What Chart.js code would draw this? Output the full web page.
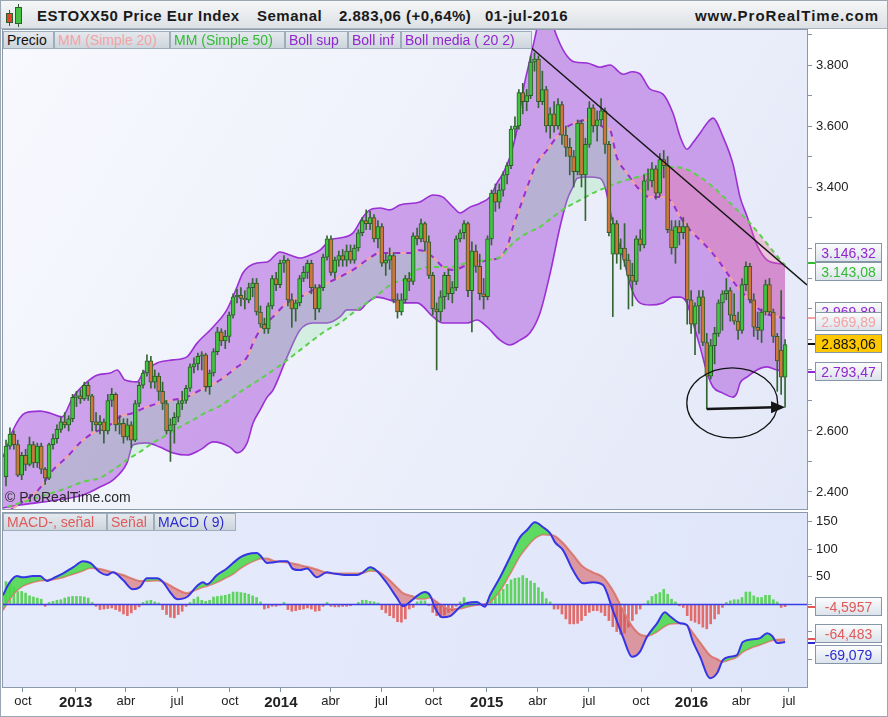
<!DOCTYPE html>
<html lang="es">
<head>
<meta charset="utf-8">
<title>ESTOXX50 Price Eur Index - Semanal</title>
<script src="https://cdn.jsdelivr.net/npm/chart.js@4.4.0/dist/chart.umd.min.js"></script>
<style>
  html, body { margin: 0; padding: 0; }
  body { width: 888px; height: 717px; position: relative; overflow: hidden; background: #fff;
         font-family: "Liberation Sans", Arial, sans-serif; color: #111; }
  #frame { position: absolute; left: 0; top: 0; width: 886px; height: 715px; border: 1px solid #9aa6b2; }
  #head { position: absolute; left: 1px; top: 1px; width: 886px; height: 27px;
          background: linear-gradient(#f5f6f7, #dde1e5); border-bottom: 1px solid #a9b4be; }
  .ht { position: absolute; top: 6px; font-size: 15px; font-weight: bold; color: #1a1a1a; white-space: nowrap; letter-spacing: 0.5px; }
  canvas { position: absolute; left: 0; }
  .lg { position: absolute; height: 18px; line-height: 17px; font-size: 14px; box-sizing: border-box; padding: 0 3px;
        background: linear-gradient(#e4e9ee, #cdd5dd); border: 1px solid #9eadbb; white-space: nowrap; overflow: hidden; }
  .vb { position: absolute; left: 815px; width: 67px; height: 19px; line-height: 18px; font-size: 14px; box-sizing: border-box;
        text-align: center; background: linear-gradient(#fbfcfd, #dbe3eb); border: 1px solid #8696a6; }
  .mk { position: absolute; left: 808px; width: 7px; height: 2px; }
  .cw { position: absolute; width: 1px; background: #2f5f2f; }
  .cb { position: absolute; box-sizing: border-box; border: 1px solid #2f5f2f; }
</style>
</head>
<body>
<div id="frame"></div>
<div id="head">
  <div class="cw" style="left:8px;top:9px;height:16px"></div>
  <div class="cb" style="left:5px;top:12px;width:7px;height:10px;background:#e0442c"></div>
  <div class="cw" style="left:17px;top:3px;height:23px"></div>
  <div class="cb" style="left:14px;top:6px;width:7px;height:17px;background:#44c244"></div>
  <div class="ht" style="left:36px">ESTOXX50 Price Eur Index</div>
  <div class="ht" style="left:256px">Semanal</div>
  <div class="ht" style="left:338px">2.883,06 (+0,64%)</div>
  <div class="ht" style="left:484px">01-jul-2016</div>
  <div class="ht" style="right:8px;letter-spacing:1px">www.ProRealTime.com</div>
</div>

<canvas id="main" width="888" height="484" style="top:28px"></canvas>
<canvas id="macd" width="888" height="206" style="top:511px"></canvas>

<div class="lg" style="left:3px;top:31px;width:51px;color:#111">Precio</div>
<div class="lg" style="left:54px;top:31px;width:116px;color:#f3a3a3">MM (Simple 20)</div>
<div class="lg" style="left:170px;top:31px;width:115px;color:#33bb33">MM (Simple 50)</div>
<div class="lg" style="left:285px;top:31px;width:63px;color:#9326d0">Boll sup</div>
<div class="lg" style="left:348px;top:31px;width:53px;color:#9326d0">Boll inf</div>
<div class="lg" style="left:401px;top:31px;width:131px;color:#9326d0">Boll media ( 20 2)</div>

<div style="position:absolute;left:5px;top:489px;font-size:14px;color:#2a2a2a">© ProRealTime.com</div>

<div class="lg" style="left:3px;top:513px;width:104px;color:#e05a5a">MACD-, señal</div>
<div class="lg" style="left:107px;top:513px;width:47px;color:#e05a5a">Señal</div>
<div class="lg" style="left:154px;top:513px;width:82px;color:#2b2bd0">MACD ( 9)</div>

<div class="mk" style="top:262px;background:#33bb33"></div>
<div class="mk" style="top:317px;background:#f3a3a3"></div>
<div class="mk" style="top:343px;background:#111"></div>
<div class="mk" style="top:371px;background:#9326d0"></div>
<div class="vb" style="top:243px;color:#9326d0">3.146,32</div>
<div class="vb" style="top:262px;color:#33bb33">3.143,08</div>
<div class="vb" style="top:302px;color:#9326d0">2.969,89</div>
<div class="vb" style="top:312px;color:#f3a3a3">2.969,89</div>
<div class="vb" style="top:334px;background:#ffc800;color:#111">2.883,06</div>
<div class="vb" style="top:362px;color:#9326d0">2.793,47</div>

<div class="mk" style="top:606px;background:#e05a5a"></div>
<div class="mk" style="top:638px;background:#e05a5a"></div>
<div class="mk" style="top:642px;background:#2b2bd0"></div>
<div class="vb" style="top:597px;color:#e05a5a">-4,5957</div>
<div class="vb" style="top:624px;color:#e05a5a">-64,483</div>
<div class="vb" style="top:645px;color:#2b2bd0">-69,079</div>

<script>
// weekly candles, 7 Sep 2012 .. 1 Jul 2016 (index 0..199)
const opens = [2450,2550,2590,2555,2455,2520,2490,2555,2495,2550,2475,2445,2555,2575,2605,2630,2620,2640,2710,2715,
  2705,2750,2715,2630,2620,2630,2600,2700,2720,2620,2625,2580,2620,2570,2690,2750,2790,2830,2760,2780,
  2730,2690,2600,2620,2645,2690,2700,2740,2810,2820,2845,2850,2745,2790,2860,2925,2895,2910,2980,3040,
  3045,3035,3030,3070,3085,2990,2950,2935,3010,3100,3080,3150,3160,3030,3000,3020,3100,3120,3150,3070,
  3000,3070,3170,3230,3120,3160,3175,3160,3190,3160,3200,3250,3290,3280,3300,3230,3270,3150,3160,3175,
  3030,2990,3030,3100,3090,3240,3230,3280,3220,3110,3000,2990,3040,3110,3050,3070,3230,3250,3280,3060,
  3190,3140,3050,3040,3230,3380,3350,3390,3440,3470,3590,3600,3710,3680,3700,3810,3820,3680,3720,3600,
  3640,3600,3670,3570,3530,3500,3450,3610,3440,3540,3660,3600,3620,3650,3540,3180,3280,3180,3200,3160,
  3110,3090,3230,3210,3420,3420,3460,3380,3490,3470,3260,3200,3270,3250,3270,3030,2950,3010,3040,2890,
  2780,2880,2920,3020,3050,3060,2980,2960,2930,3080,3140,3030,2940,2930,2990,3080,2990,2910,2865,2776];
const highs = [2570,2610,2600,2570,2530,2540,2580,2565,2560,2560,2480,2560,2590,2620,2645,2660,2650,2720,2730,2735,
  2760,2760,2720,2660,2650,2640,2720,2740,2725,2650,2640,2640,2630,2700,2760,2800,2850,2845,2800,2790,
  2760,2700,2640,2660,2700,2730,2750,2820,2840,2855,2860,2855,2800,2870,2940,2935,2930,2990,3050,3065,
  3070,3060,3085,3100,3100,3010,2970,3020,3110,3120,3160,3175,3165,3050,3030,3110,3140,3160,3160,3080,
  3080,3180,3240,3240,3170,3190,3195,3210,3210,3210,3260,3300,3325,3320,3310,3290,3280,3180,3200,3185,
  3050,3050,3110,3120,3250,3265,3295,3285,3240,3120,3020,3060,3120,3130,3090,3240,3260,3290,3285,3220,
  3210,3180,3100,3240,3390,3410,3410,3450,3480,3600,3630,3720,3740,3720,3830,3840,3830,3780,3730,3660,
  3680,3690,3680,3600,3560,3520,3620,3620,3560,3680,3670,3650,3690,3660,3550,3300,3290,3230,3280,3180,
  3150,3240,3260,3440,3460,3480,3470,3510,3520,3500,3290,3290,3290,3300,3280,3060,3020,3060,3060,2920,
  2900,2940,3030,3060,3100,3070,3050,2990,3100,3155,3150,3050,2990,3000,3095,3100,3000,2920,3060,2900];
const lows = [2420,2540,2540,2450,2440,2470,2485,2480,2480,2460,2425,2440,2540,2560,2595,2610,2600,2630,2680,2690,
  2700,2700,2600,2600,2590,2560,2590,2680,2600,2590,2560,2570,2545,2565,2680,2740,2780,2740,2740,2700,
  2670,2590,2500,2560,2630,2670,2690,2730,2790,2800,2800,2730,2720,2780,2850,2880,2870,2890,2970,3020,
  3010,3000,3020,3040,2980,2940,2920,2920,3000,3060,3070,3120,3010,2940,2960,3010,3090,3100,3050,2965,
  2990,3060,3160,3110,3100,3140,3140,3140,3150,3150,3190,3240,3260,3260,3220,3200,3140,3110,3130,3020,
  2970,2980,3020,3060,3080,3210,3220,3190,3100,2980,2800,2960,3000,3030,3020,3060,3220,3230,3040,2925,
  3120,3030,3000,3030,3210,3320,3330,3370,3410,3460,3560,3590,3640,3650,3690,3780,3660,3670,3580,3560,
  3580,3590,3540,3500,3440,3400,3440,3400,3290,3530,3580,3550,3600,3510,3240,2975,3150,3130,3140,3000,
  3010,3080,3190,3200,3390,3400,3360,3370,3430,3250,3180,3150,3210,3230,2950,2920,2850,2920,2880,2672,
  2770,2820,2910,2930,3030,2960,2950,2900,2920,3060,3020,2910,2900,2890,2980,2980,2890,2730,2720,2678];
const closes = [2550,2590,2555,2455,2520,2490,2555,2495,2550,2475,2445,2555,2575,2605,2630,2620,2640,2710,2715,2705,
  2750,2715,2630,2620,2630,2600,2700,2720,2620,2625,2580,2620,2570,2690,2750,2790,2830,2760,2780,2730,
  2690,2600,2620,2645,2690,2700,2740,2810,2820,2845,2850,2745,2790,2860,2925,2895,2910,2980,3040,3045,
  3035,3030,3070,3085,2990,2950,2935,3010,3100,3080,3150,3160,3030,3000,3020,3100,3120,3150,3070,3000,
  3070,3170,3230,3120,3160,3175,3160,3190,3160,3200,3250,3290,3280,3300,3230,3270,3150,3160,3175,3030,
  2990,3030,3100,3090,3240,3230,3280,3220,3110,3000,2990,3040,3110,3050,3070,3230,3250,3280,3060,3190,
  3140,3050,3040,3230,3380,3350,3390,3440,3470,3590,3600,3710,3680,3700,3810,3820,3680,3720,3600,3640,
  3600,3670,3570,3530,3500,3450,3610,3440,3540,3660,3600,3620,3650,3540,3250,3280,3180,3200,3160,3110,
  3090,3230,3210,3420,3420,3460,3380,3490,3470,3260,3200,3270,3250,3270,3030,2950,3010,3040,2890,2780,
  2880,2920,3020,3050,3060,2980,2960,2930,3080,3140,3030,2940,2930,2990,3080,2990,2910,2830,2776,2883.06];

// Bollinger (20, 2) and moving averages (week index, value)
const upperWeeks = [-0.8,0,1.8,4.9,8.7,11.2,14.3,17.1,20.7,23.2,26.6,28.4,30.4,33.5,35,38.6,42.7,46.2,48.8,52.9,
  56.4,59,60.5,64.1,66.7,70,72.5,75.1,77.7,80.2,82.8,85.3,88.6,91.2,93,95.5,98.1,100.6,105.7,109.1,
  111.6,114.2,116,118.5,121.1,123.6,125.4,127,128.7,130.5,132.1,133.8,135.1,136.4,138.4,139.7,141.5,143.3,145.3,148.4,
  151.7,154.3,157.6,160,162,164.5,167.8,170.4,172.2,173.9,175.5,177.3,179.1,180.6,183.1,185.7,187.5,189.3,191.8,194.4,196.9,199];
const upperVals = [2515,2538,2603,2659,2665,2659,2646,2711,2761,2783,2790,2800,2767,2761,2790,2823,2833,2843,2888,2941,
  2997,3072,3118,3151,3154,3187,3177,3167,3177,3193,3226,3233,3249,3302,3325,3331,3325,3341,3351,3374,
  3367,3334,3315,3334,3347,3367,3413,3446,3498,3587,3718,3816,3890,3960,3990,3930,3870,3830,3810,3807,
  3793,3800,3770,3778,3770,3721,3705,3641,3565,3524,3546,3577,3610,3626,3566,3475,3367,3303,3210,3160,3150,3146.32];
const lowerWeeks = [-0.8,3.6,11.2,19.7,24,27.3,30.9,32.4,36,39.3,42.7,46.2,49.6,52.9,57.2,59,61.6,63.1,64.9,66.7,
  68.2,71.8,75.1,78.4,82,85.3,87.1,90.4,92.2,94.8,98.1,100.6,105,109.1,111.6,117.8,120.3,122.9,126.2,128.7,
  131.3,133.8,136.4,139,141.5,143.3,144.8,145.9,148.4,151.7,153,155,157.6,159.9,161.9,164.5,167.8,170.4,172.2,173.9,
  175.5,177.3,179.1,180.6,183.1,185.7,186.7,187.5,189.3,191.8,194.4,196.9,199];
const lowerVals = [2347,2357,2370,2390,2416,2439,2495,2554,2561,2547,2528,2521,2538,2564,2547,2528,2561,2626,2669,2711,
  2734,2843,2931,2954,2954,2974,2997,2997,3020,3039,3029,3020,3020,2974,2954,2954,2964,2941,2898,2882,
  2898,2921,2987,3118,3269,3357,3400,3429,3433,3429,3400,3282,3170,3062,3020,3013,3020,3039,3039,3020,
  2954,2875,2790,2744,2724,2711,2724,2757,2777,2800,2810,2800,2793.47];
const sma20Weeks = [-0.8,4,8.2,12,15.6,18.9,22.2,25.8,29.1,32.4,36,39.3,42.7,46.2,49.6,54.7,58,61.6,63.1,64.9,
  68.2,71.8,75.1,78.4,82,85.3,88.6,92.2,95.5,98.9,103.2,105.7,109.1,111.6,114.2,117.8,121.1,123.6,126.2,128,
  129.5,131.3,133.8,135.6,138.2,140.7,143.3,145.9,148.4,151,152.5,154.3,156,158.6,161.2,164.5,167.1,169.6,172.2,174.7,
  177.3,179.8,182.4,184.9,187.5,190,192.6,195.1,199];
const sma20Vals = [2325,2365,2406,2472,2515,2561,2593,2613,2646,2659,2679,2692,2702,2711,2734,2767,2800,2843,2888,2931,
  2974,3020,3039,3062,3085,3105,3128,3161,3184,3184,3184,3193,3170,3138,3128,3144,3154,3161,3170,3203,
  3269,3334,3423,3479,3521,3564,3597,3613,3620,3613,3597,3587,3498,3446,3400,3367,3367,3357,3302,3259,
  3226,3193,3151,3105,3062,3029,2997,2980,2969.89];
const sma50Weeks = [0.3,8.7,15.6,19.7,24,27.3,30.9,34.2,37.5,41.1,44.4,47.8,51.3,54.7,59.8,64.9,70,75.1,78.4,82,
  85.3,88.6,92.2,95.5,98.9,101.4,105,109.1,113.4,117.8,122.9,126.2,129.5,133.1,136.4,139.7,143.3,146.6,149.9,153.5,
  156,160.2,164.5,168.8,172.9,177.3,180.6,184.2,186.7,189.3,192.6,195.7,199];
const sma50Vals = [2351,2384,2413,2433,2446,2472,2505,2531,2561,2587,2613,2636,2662,2682,2728,2770,2815,2865,2898,2931,
  2954,2987,3020,3052,3085,3095,3128,3138,3138,3151,3161,3170,3216,3249,3269,3302,3334,3357,3380,3400,
  3413,3429,3446,3466,3462,3433,3400,3357,3325,3292,3243,3193,3143.08];

// hand-drawn marks on the price panel
const trendWeeks = [134.3, 204.6];
const trendVals = [3855, 3079];
const arrowWeeks = [179, 199];
const arrowVals = [2672, 2678];
const ringMark = { week: 185.5, value: 2692, halfWeeks: 11.6, halfValue: 115 };

// MACD panel
const macdWeeks = [-0.8,1,2.8,4.3,6.9,8.7,10.5,12,14.6,17.1,19.7,21.5,24,25.8,27.3,29.9,32.4,34.2,36,38.6,
  40.1,41.9,43.7,46.2,48.8,50.3,51.3,53.9,56.4,58,59.8,61.6,64.1,64.9,66.7,68.2,70,71.8,73.3,75.1,
  76.9,79.4,82,83.5,87.1,89.7,91.2,93,94.8,97.3,99.9,101.4,104,105,107,108.3,109.6,111.4,113.4,116,
  117.8,120.3,122.3,123.6,126.2,128.7,131.3,133.1,135.1,137.2,139,140.2,142.3,144.8,147.4,149.9,152.5,155,157.6,159.9,
  161.9,163.7,166.3,168.3,169.6,172.2,173.9,175.5,177.3,179.8,181.6,183.1,184.9,186.7,188.2,190.8,192.6,194.4,195.7,197,199];
const macdVals = [16,40,51,49,51,51,42,47,56,67,78,75,58,53,58,44,27,31,47,47,
  40,22,9,13,33,40,36,53,65,75,85,91,93,89,75,76,78,78,64,62,
  65,49,58,56,53,53,58,67,60,38,11,-4,9,15,22,16,-7,-24,-22,-5,
  2,4,-5,16,49,85,122,135,149,140,129,113,98,62,38,40,35,-11,-60,-96,
  -87,-60,-35,-15,-22,-35,-38,-69,-96,-135,-126,-102,-96,-93,-69,-64,-62,-53,-58,-71,-69.079];
const signalVals = [-11,10,25,33,40,43,44,45,49,55,61,66,64,61,58,53,46,42,42,43,
  41,34,27,20,27,31,33,40,49,55,65,73,81,83,83,79,77,76,74,71,
  68,63,57,56,56,56,57,61,60,48,30,20,14,10,10,12,6,-3,-9,-8,
  -5,-1,0,4,25,55,88,105,120,127,126,124,111,90,68,58,49,25,-11,-40,
  -55,-58,-50,-40,-36,-35,-38,-53,-70,-93,-100,-105,-101,-96,-87,-78,-74,-69,-66,-65,-64.483];
const histVals = [41,38,31,23,23,20,15,13,11,9,-4,3,5,7,8,11,13,14,14,14,
  13,11,3,-4,-10,-9,-8,-7,-10,-13,-18,-21,-16,-10,-5,3,6,7,4,2,
  -10,-19,-24,-25,-19,-13,-4,3,9,13,7,5,7,13,14,15,16,18,22,22,
  21,20,18,15,12,4,-9,-7,-4,-4,-2,3,-10,-13,-12,-10,-9,-7,-9,-13,
  -12,-4,3,-4,-5,-5,-4,-4,-3,-1,3,7,7,5,4,2,-10,-16,-21,-25,
  -32,-33,-27,-9,-6,4,6,6,-3,-15,-21,-24,-20,-15,-12,-4,4,12,0,-3,
  -2,1,-3,1,9,12,21,27,36,44,47,48,52,47,42,38,30,22,10,4,
  -9,-9,-18,-27,-36,-36,-35,-30,-21,-15,-12,-12,-15,-21,-30,-41,-50,-55,-53,-42,
  -30,-18,-9,0,6,14,18,21,27,18,9,4,-3,-6,-21,-30,-33,-36,-42,-45,
  -36,-27,-18,-6,3,6,8,8,12,22,22,15,12,12,16,16,8,4,-6,-4.5957];

// axis ticks
const priceTicks = [2400,2500,2600,2700,2800,2900,3000,3100,3200,3300,3400,3500,3600,3700,3800,3900];
const macdTicks = [-100,-50,0,50,100,150];
const xTickWeeks = [4.3,17.8,30.6,43.7,57.2,70.2,82.9,95.9,109.2,122.8,135.8,148.9,162.2,175.1,187.8,200];
const xTickLabels = ['oct','2013','abr','jul','oct','2014','abr','jul','oct','2015','abr','jul','oct','2016','abr','jul'];

const xMin = -0.77, xMax = 204.6;

Chart.defaults.font.family = "'Liberation Sans', Arial, sans-serif";
Chart.defaults.color = '#222';

const pts = (xs, ys) => xs.map((x, i) => ({ x: x, y: ys[i] }));
const fmt = v => {
  const s = String(Math.abs(v));
  const t = s.length > 3 ? s.slice(0, -3) + '.' + s.slice(-3) : s;
  return (v < 0 ? '-' : '') + t;
};
const weekIdx = closes.map((c, i) => i);

// keep the plot box where the picture has it: no extra room for edge labels
const noPad = s => { s.paddingTop = 0; s.paddingBottom = 0; s.paddingLeft = 0; s.paddingRight = 0; };

const panelBg = {
  id: 'panelBg',
  beforeDraw(chart, args, opts) {
    const { ctx, chartArea: a } = chart;
    ctx.save();
    const g = ctx.createLinearGradient(a.left, a.top, a.right, a.bottom);
    g.addColorStop(0, opts.c1);
    g.addColorStop(1, opts.c2);
    ctx.fillStyle = g;
    ctx.fillRect(a.left, a.top, a.right - a.left, a.bottom - a.top);
    ctx.restore();
  },
  afterDraw(chart) {
    const { ctx, chartArea: a } = chart;
    ctx.save();
    ctx.strokeStyle = '#8a9aab';
    ctx.lineWidth = 1;
    ctx.strokeRect(a.left - 0.5, a.top - 0.5, a.right - a.left + 1, a.bottom - a.top + 1);
    ctx.restore();
  }
};

const marks = {
  id: 'marks',
  afterDatasetsDraw(chart) {
    const { ctx, scales: { x, y } } = chart;
    ctx.save();
    ctx.strokeStyle = '#151515';
    ctx.fillStyle = '#151515';
    // ellipse round the two lows
    const cx = x.getPixelForValue(ringMark.week);
    const cy = y.getPixelForValue(ringMark.value);
    const rx = x.getPixelForValue(ringMark.week + ringMark.halfWeeks) - cx;
    const ry = y.getPixelForValue(ringMark.value - ringMark.halfValue) - cy;
    ctx.lineWidth = 1.3;
    ctx.beginPath();
    ctx.ellipse(cx, cy, rx, ry, 0, 0, Math.PI * 2);
    ctx.stroke();
    // arrow low to low
    const x0 = x.getPixelForValue(arrowWeeks[0]), y0 = y.getPixelForValue(arrowVals[0]);
    const x1 = x.getPixelForValue(arrowWeeks[1]), y1 = y.getPixelForValue(arrowVals[1]);
    ctx.lineWidth = 2.5;
    ctx.beginPath();
    ctx.moveTo(x0, y0);
    ctx.lineTo(x1 - 10, y1);
    ctx.stroke();
    ctx.beginPath();
    ctx.moveTo(x1, y1);
    ctx.lineTo(x1 - 14, y1 - 6);
    ctx.lineTo(x1 - 14, y1 + 6);
    ctx.closePath();
    ctx.fill();
    ctx.restore();
  }
};

const zeroLine = {
  id: 'zeroLine',
  afterDatasetsDraw(chart) {
    const { ctx, chartArea: a, scales: { y } } = chart;
    const py = Math.round(y.getPixelForValue(0)) + 0.5;
    ctx.save();
    ctx.strokeStyle = '#3a3ae6';
    ctx.lineWidth = 1.5;
    ctx.beginPath();
    ctx.moveTo(a.left, py);
    ctx.lineTo(a.right, py);
    ctx.stroke();
    ctx.restore();
  }
};

const lineStyle = { pointRadius: 0, borderWidth: 1.6, cubicInterpolationMode: 'monotone' };

new Chart(document.getElementById('main'), {
  type: 'line',
  data: {
    datasets: [
      { ...lineStyle, label: 'Boll sup', data: pts(upperWeeks, upperVals), borderColor: '#9b30d4',
        fill: '+1', backgroundColor: 'rgba(168, 78, 218, 0.5)', order: 7 },
      { ...lineStyle, label: 'Boll inf', data: pts(lowerWeeks, lowerVals), borderColor: '#9b30d4', fill: false, order: 6 },
      { ...lineStyle, label: 'MM (Simple 20)', data: pts(sma20Weeks, sma20Vals), borderColor: '#f4a4a4', borderWidth: 2,
        borderDash: [6, 6], fill: { target: '+1', above: 'rgba(130, 230, 150, 0.26)', below: 'rgba(240, 110, 150, 0.32)' }, order: 5 },
      { ...lineStyle, label: 'MM (Simple 50)', data: pts(sma50Weeks, sma50Vals), borderColor: '#5ccf4c', borderWidth: 2,
        borderDash: [5, 4], fill: false, order: 3 },
      { ...lineStyle, label: 'Boll media', data: pts(sma20Weeks, sma20Vals), borderColor: '#9a2fd0', borderWidth: 2,
        borderDash: [6, 6], borderDashOffset: 6, fill: false, order: 4 },
      { type: 'bar', label: 'mechas', data: weekIdx.map(i => ({ x: i, y: [lows[i], highs[i]] })),
        backgroundColor: '#346434', barThickness: 1, grouped: false, order: 2 },
      { type: 'bar', label: 'Precio', data: weekIdx.map(i => ({ x: i, y: [opens[i], closes[i]] })),
        backgroundColor: weekIdx.map(i => closes[i] >= opens[i] ? '#3ec63e' : '#d0763c'),
        borderColor: '#2d5c2a', borderWidth: 1, borderSkipped: false, barThickness: 4, minBarLength: 1,
        grouped: false, order: 1 },
      { label: 'tendencia', data: pts(trendWeeks, trendVals), borderColor: '#151515', borderWidth: 1.5,
        pointRadius: 0, fill: false, order: 0 }
    ]
  },
  options: {
    responsive: false,
    animation: false,
    devicePixelRatio: 1,
    layout: { padding: { left: 3, top: 2, right: 0, bottom: 3 } },
    plugins: {
      legend: { display: false },
      tooltip: { enabled: false },
      panelBg: { c1: '#f8f9fe', c2: '#e3e8f8' }
    },
    scales: {
      x: { type: 'linear', min: xMin, max: xMax, offset: false, display: false },
      y: {
        position: 'right', min: 2344, max: 3915,
        afterFit: s => { s.width = 81; noPad(s); },
        afterBuildTicks: s => { s.ticks = priceTicks.map(v => ({ value: v })); },
        grid: { drawOnChartArea: false, tickLength: 5, color: '#8595a5' },
        border: { display: false },
        ticks: { padding: 4, color: '#222', font: { size: 13 }, callback: v => (v % 200 === 0 ? fmt(v) : '') }
      }
    }
  },
  plugins: [panelBg, marks]
});

new Chart(document.getElementById('macd'), {
  type: 'line',
  data: {
    datasets: [
      { ...lineStyle, label: 'MACD ( 9)', data: pts(macdWeeks, macdVals), borderColor: '#3535e6', borderWidth: 2,
        fill: { target: '+1', above: 'rgba(70, 215, 70, 0.85)', below: 'rgba(215, 85, 85, 0.55)' }, order: 0 },
      { ...lineStyle, label: 'Señal', data: pts(macdWeeks, signalVals), borderColor: '#e68282', borderWidth: 2,
        fill: false, order: 1 },
      { type: 'bar', label: 'MACD-, señal', data: weekIdx.map(i => ({ x: i, y: histVals[i] })),
        backgroundColor: histVals.map(v => v >= 0 ? '#5fd35f' : '#e26c6c'), barThickness: 2, grouped: false, order: 2 }
    ]
  },
  options: {
    responsive: false,
    animation: false,
    devicePixelRatio: 1,
    layout: { padding: { left: 3, top: 2, right: 0, bottom: 1 } },
    plugins: {
      legend: { display: false },
      tooltip: { enabled: false },
      panelBg: { c1: '#e6ebfb', c2: '#e0e6fa' }
    },
    scales: {
      x: {
        type: 'linear', min: xMin, max: xMax, offset: false,
        afterFit: s => { s.height = 29; noPad(s); },
        afterBuildTicks: s => { s.ticks = xTickWeeks.map(v => ({ value: v })); },
        grid: { drawOnChartArea: false, tickLength: 5, color: '#8595a5', offset: false },
        border: { display: false },
        ticks: {
          autoSkip: false, maxRotation: 0, padding: 2, color: '#222',
          font: c => (/^\d{4}$/.test(xTickLabels[c.index]) ? { size: 15, weight: 'bold' } : { size: 13 }),
          callback: (v, i) => xTickLabels[i]
        }
      },
      y: {
        position: 'right', min: -151, max: 166,
        afterFit: s => { s.width = 81; noPad(s); },
        afterBuildTicks: s => { s.ticks = macdTicks.map(v => ({ value: v })); },
        grid: { drawOnChartArea: false, tickLength: 5, color: '#8595a5' },
        border: { display: false },
        ticks: { padding: 4, color: '#222', font: { size: 13 }, callback: v => String(v) }
      }
    }
  },
  plugins: [panelBg, zeroLine]
});
</script>
</body>
</html>
